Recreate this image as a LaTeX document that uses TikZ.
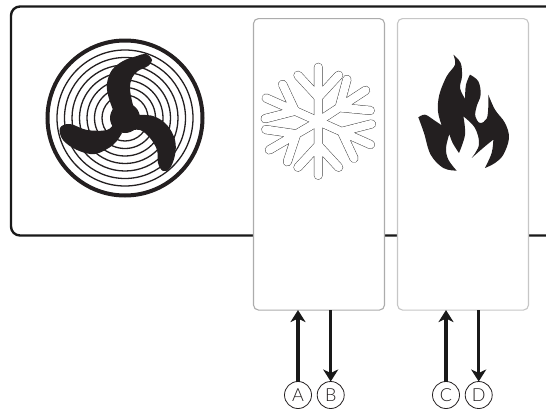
\documentclass[tikz,border=0pt]{standalone}
\usepackage{fontspec}
\setmainfont{Lato}[UprightFont=* Light]
\usepackage{xcolor}
\usetikzlibrary{arrows.meta, positioning}
\definecolor{unitdark}{HTML}{231F20}
\tikzset{
  panel/.style={draw=gray!65, fill=white, rounded corners=5pt, line width=1.1pt,
                minimum width=131pt, minimum height=291.5pt, inner sep=0pt, outer sep=0pt},
  port/.style={draw=unitdark, circle, line width=.8pt, minimum size=27pt, inner sep=0pt,
               outer sep=0pt, font=\fontsize{18}{18}\selectfont, text=unitdark},
  flow/.style={-{Stealth[length=12pt, width=15pt, inset=3.5pt]}, line width=3.4pt, draw=black!90},
  frameline/.style={draw=black!90, line width=2.4pt, rounded corners=9pt},
  ring/.style={draw=unitdark, line width=1.3pt},
}
\begin{document}
\begin{tikzpicture}[x=1pt, y=-1pt]
  \useasboundingbox (0,0) rectangle (546,410);
  \draw[frameline] (546,6.5) -- (11,6.5) -- (11,235.5) -- (546,235.5);

  % fan
  \draw[draw=unitdark, line width=4pt] (125,118) circle[radius=77.5];
  \foreach \r in {68,60.5,53,45.5,38,30.5,23}
    \draw[ring] (125,118) circle[radius=\r];
  \begin{scope}[shift={(125,118)}]
    \fill[unitdark] (0,0) circle[radius=15];
    \fill[unitdark] plot[smooth, tension=.6] coordinates {(-12,-8) (-17,-23) (-18,-35) (-13,-48) (-2,-57)
        (12,-62) (21,-64) (27,-58) (23,-52) (13,-47) (7,-40) (5,-30) (7,-17) (11,-2)} -- cycle;
    \fill[unitdark] plot[smooth, tension=.6] coordinates {(10,-3) (28,-2) (42,7) (50,22) (50,37) (45,50)
        (38,53) (33,45) (32,32) (25,20) (15,12) (3,13)} -- cycle;
    \fill[unitdark] plot[smooth, tension=.6] coordinates {(-3,15) (-12,27) (-30,36) (-48,32) (-62,22) (-65,10)
        (-55,6) (-38,12) (-18,12) (-11,5)} -- cycle;
  \end{scope}

  \node[panel] (coolbox) at (319,164.3) {};
  \node[panel, draw=gray!45, right=13pt of coolbox] (heatbox) {};

  % snowflake
  \foreach \w/\c in {9pt/gray!55!black, 8pt/white}
    \foreach \a in {90,35,-25.5,-90,-148,154.5}
      \draw[draw=\c, line width=\w, line cap=round, line join=round, shift={(318.3,121.3)}, xscale=1.07, rotate=\a]
        (0,0) -- (54,0) (24,0) -- (46,-19) (24,0) -- (46,19);

  % flame
  \begin{scope}[shift={(410,48)}, x=.3333pt, y=-.3333pt]
    \fill[unitdark] (130,20)
      --plot[smooth, tension=.6] coordinates {(130,20) (152,45) (156,85) (150,120) (165,152)}
      --plot[smooth, tension=.6] coordinates {(165,152) (168,110) (180,80)}
      --plot[smooth, tension=.6] coordinates {(180,80) (205,100) (212,140) (200,175) (196,205) (210,225) (230,212) (235,175) (235,140)}
      --plot[smooth, tension=.6] coordinates {(235,140) (255,185) (285,225) (297,270) (280,320) (255,345) (225,360)}
      --plot[smooth, tension=.6] coordinates {(225,360) (245,315) (250,275)}
      --plot[smooth, tension=.6] coordinates {(250,275) (225,295) (185,330)}
      --plot[smooth, tension=.6] coordinates {(185,330) (207,290) (195,240) (160,205)}
      --plot[smooth, tension=.6] coordinates {(160,205) (165,260) (147,315)}
      --plot[smooth, tension=.6] coordinates {(147,315) (128,285) (118,258)}
      --plot[smooth, tension=.6] coordinates {(118,258) (108,300) (115,335) (140,368)}
      --plot[smooth, tension=.6] coordinates {(140,368) (100,360) (62,320) (42,255) (25,208)}
      --plot[smooth, tension=.6] coordinates {(25,208) (45,200) (70,215) (95,232)}
      --plot[smooth, tension=.6] coordinates {(95,232) (84,190) (88,140) (110,85) (135,50) (130,20)}
      -- cycle;
  \end{scope}

  \node[port] (portA) at (298,395) {A};
  \node[port, right=5.7pt of portA] (portB) {B};
  \node[port] (portC) at (446,395) {C};
  \node[port, right=5.7pt of portC] (portD) {D};
  \draw[flow] (portA.north) -- (portA |- coolbox.south);
  \draw[flow] (portB |- coolbox.south) -- (portB.north);
  \draw[flow] (portC.north) -- (portC |- heatbox.south);
  \draw[flow] (portD |- heatbox.south) -- (portD.north);
\end{tikzpicture}
\end{document}
